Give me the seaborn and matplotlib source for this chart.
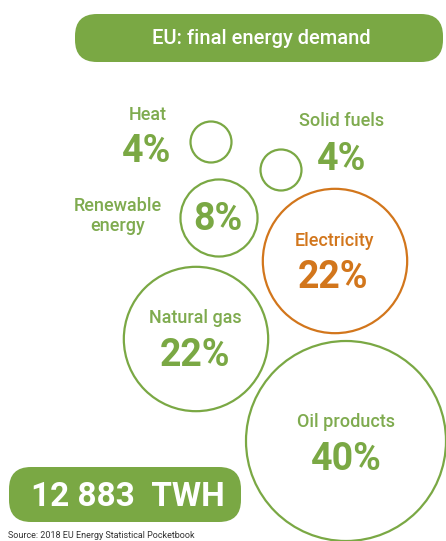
import pandas as pd
import seaborn as sns
import matplotlib.pyplot as plt
from matplotlib.patches import FancyBboxPatch

# --- data -------------------------------------------------------------
categories = ["Heat", "Solid fuels", "Renewable\nenergy", "Electricity",
              "Natural gas", "Oil products"]
shares = [4, 4, 8, 22, 22, 40]          # % of EU final energy demand
title = "EU: final energy demand"
total_label = "12 883  TWH"
source = "Source: 2018 EU Energy Statistical Pocketbook"

# --- layout (pixel-like canvas coordinates) ----------------------------
bubble_x = [211, 281, 219, 335, 196, 346]
bubble_y = [142, 170, 218, 261, 339, 441]
name_xy = [(148, 115), (342, 121), (118, 216), (334, 241), (195, 318), (346, 422)]
pct_xy = [(147, 152), (342, 159), (218, 220), (333, 277), (195, 356), (346, 459)]

GREEN = "#7aa844"
LABEL_GREEN = "#7fab4f"
ORANGE = "#d2761c"
palette = {c: (ORANGE if c == "Electricity" else GREEN) for c in categories}
text_color = {c: (ORANGE if c == "Electricity" else LABEL_GREEN) for c in categories}
pct_color = {c: (ORANGE if c == "Electricity" else GREEN) for c in categories}

sns.set_style("white")
plt.rcParams["font.family"] = ["Roboto", "DejaVu Sans"]

W, H = 446, 541
fig = plt.figure(figsize=(W / 100, H / 100), dpi=100)
ax = fig.add_axes([0, 0, 1, 1])

df = pd.DataFrame({"x": bubble_x, "y": bubble_y, "share": shares,
                   "category": categories})
sns.scatterplot(data=df, x="x", y="y", size="share", sizes=(871, 20736),
                hue="category", palette=palette, legend=False, ax=ax,
                clip_on=False)

# outline-only bubbles
coll = ax.collections[0]
fc = coll.get_facecolors().copy()
coll.set_facecolors("none")
coll.set_edgecolors(fc)
coll.set_linewidths(1.6)

ax.set_xlim(0, W)
ax.set_ylim(H, 0)
ax.set_axis_off()

# category names and shares
for cat, v, (nx, ny), (px, py) in zip(categories, shares, name_xy, pct_xy):
    ax.text(nx, ny, cat, ha="center", va="center", fontsize=13,
            fontweight="medium", color=text_color[cat], linespacing=1.2)
    ax.text(px, py, f"{v}%", ha="center", va="center", fontsize=27,
            fontweight="bold", color=pct_color[cat])

# title pill
ax.add_patch(FancyBboxPatch((75, 14), 368, 48,
                            boxstyle="round,pad=0,rounding_size=22",
                            facecolor=GREEN, edgecolor="none"))
ax.text(261, 38, title, ha="center", va="center", fontsize=14.5,
        fontweight="medium", color="white")

# total pill
ax.add_patch(FancyBboxPatch((9, 467), 232, 55,
                            boxstyle="round,pad=0,rounding_size=22",
                            facecolor=GREEN, edgecolor="none"))
ax.text(128, 497, total_label, ha="center", va="center", fontsize=24,
        fontweight="bold", color="white")

ax.text(8, 540, source, ha="left", va="bottom", fontsize=6.5, color="#333333")

fig.savefig("out.png", dpi=100)
